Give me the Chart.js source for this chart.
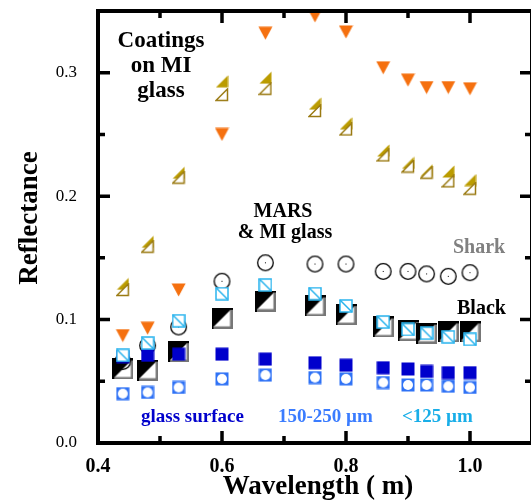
<!DOCTYPE html>
<html>
<head>
<meta charset="utf-8">
<script src="https://cdn.jsdelivr.net/npm/chart.js@4"></script>
<style>
  html, body { margin: 0; padding: 0; overflow: hidden; background: #fff; }
  #wrap { width: 531px; height: 502px; overflow: hidden; position: relative; }
  canvas { display: block; }
</style>
</head>
<body>
<div id="wrap"><canvas id="chart" width="540" height="502"></canvas></div>
<script>
// wavelength in microns
const wavelength = [0.44, 0.48, 0.53, 0.60, 0.67, 0.75, 0.80, 0.86, 0.90, 0.93, 0.965, 1.00];

// coatings on MI glass
const coatingOrange = [0.087, 0.093, 0.124, 0.250, 0.332, 0.346, 0.333, 0.304, 0.294, 0.288, 0.288, 0.287];
const coatingOliveFilled = [0.129, 0.163, 0.219, 0.293, 0.296, 0.275, 0.259, 0.237, 0.227, 0.221, 0.220, 0.213];
const coatingOliveOpen = [0.124, 0.159, 0.215, 0.282, 0.287, 0.269, 0.254, 0.233, 0.224, 0.219, 0.212, 0.206];

// MARS & MI glass
const shark = [0.066, 0.079, 0.094, 0.131, 0.146, 0.145, 0.145, 0.139, 0.139, 0.137, 0.135, 0.138];
const black = [0.060, 0.059, 0.074, 0.101, 0.115, 0.111, 0.104, 0.094, 0.091, 0.089, 0.090, 0.090];
const glassSurface = [0.070, 0.071, 0.072, 0.072, 0.068, 0.065, 0.063, 0.061, 0.060, 0.058, 0.057, 0.057];
const grain150to250 = [0.040, 0.041, 0.045, 0.052, 0.055, 0.053, 0.052, 0.049, 0.047, 0.047, 0.046, 0.045];
const grainUnder125 = [0.071, 0.081, 0.099, 0.121, 0.128, 0.121, 0.111, 0.098, 0.092, 0.089, 0.086, 0.084];

const xMajorTicks = [0.4, 0.6, 0.8, 1.0];
const xMinorTicks = [0.5, 0.7, 0.9];
const yMajorTicks = [0.0, 0.1, 0.2, 0.3];
const yMinorTicks = [0.05, 0.15, 0.25];

const serif = "'Liberation Serif', 'DejaVu Serif', serif";

// little canvases used as point styles
function marker(w, h, draw) {
    const c = document.createElement('canvas');
    c.width = w;
    c.height = h;
    draw(c.getContext('2d'), w, h);
    return c;
}

const orangeTri = marker(15, 14, (g) => {
    g.fillStyle = '#f5700f';
    g.beginPath();
    g.moveTo(0.5, 0.5); g.lineTo(14.5, 0.5); g.lineTo(7.5, 13.5);
    g.closePath();
    g.fill();
});

const oliveFilled = marker(13, 13, (g) => {
    g.fillStyle = '#bb9c00';
    g.beginPath();
    g.moveTo(12.5, 0.5); g.lineTo(12.5, 12.5); g.lineTo(0.5, 12.5);
    g.closePath();
    g.fill();
});

const oliveOpen = marker(14, 14, (g) => {
    g.fillStyle = '#fff';
    g.strokeStyle = '#9a7a12';
    g.lineWidth = 1.5;
    g.beginPath();
    g.moveTo(12.5, 1); g.lineTo(12.5, 12.5); g.lineTo(1, 12.5);
    g.closePath();
    g.fill();
    g.stroke();
});

const sharkCircle = marker(19, 19, (g) => {
    g.strokeStyle = '#000';
    g.lineWidth = 1.3;
    g.beginPath();
    g.arc(9.5, 9.5, 7.8, 0, Math.PI * 2);
    g.stroke();
    g.fillStyle = '#000';
    g.fillRect(9, 9, 1, 1);
});

const blackSquare = marker(21, 21, (g) => {
    g.fillStyle = '#fff';
    g.fillRect(1, 1, 19, 19);
    g.fillStyle = '#000';
    g.beginPath();
    g.moveTo(1, 1); g.lineTo(20, 1); g.lineTo(1, 20);
    g.closePath();
    g.fill();
    g.fillStyle = '#777';
    g.fillRect(18.5, 1, 2.5, 20);
    g.fillRect(1, 18.5, 20, 2.5);
    g.fillStyle = '#000';
    g.fillRect(0, 0, 21, 2);
    g.fillRect(0, 0, 2, 21);
});

const cyanSquare = marker(14, 14, (g) => {
    g.fillStyle = '#fff';
    g.fillRect(1, 1, 12, 12);
    g.strokeStyle = '#2ab4ee';
    g.lineWidth = 1.5;
    g.strokeRect(1, 1, 12, 12);
    g.beginPath();
    g.moveTo(1, 1); g.lineTo(13, 13);
    g.stroke();
});

const blueSquare = marker(14, 14, (g) => {
    g.fillStyle = '#0000cc';
    g.fillRect(0.5, 0.5, 13, 13);
});

const blueCircleSquare = marker(14, 14, (g) => {
    g.fillStyle = '#2f72f6';
    g.fillRect(0.5, 0.5, 13, 13);
    g.fillStyle = '#fff';
    g.beginPath();
    g.arc(7, 7, 5, 0, Math.PI * 2);
    g.fill();
});

const points = (ys) => ys.map((y, i) => ({ x: wavelength[i], y: y }));

const series = [
    { label: '<125 um', data: grainUnder125, style: cyanSquare },
    { label: 'glass surface', data: glassSurface, style: blueSquare },
    { label: '150-250 um', data: grain150to250, style: blueCircleSquare },
    { label: 'Shark', data: shark, style: sharkCircle },
    { label: 'Black', data: black, style: blackSquare },
    { label: 'coating open', data: coatingOliveOpen, style: oliveOpen },
    { label: 'coating filled', data: coatingOliveFilled, style: oliveFilled },
    { label: 'coating orange', data: coatingOrange, style: orangeTri },
];

const datasets = series.map((s, i) => ({
    label: s.label,
    data: points(s.data),
    pointStyle: s.style,
    pointRadius: 7,
    order: i
}));

function tickMarks(ctx, area, xs, ys) {
    const len = { major: 12, minor: 7 };
    ctx.save();
    ctx.strokeStyle = '#000';
    ctx.lineWidth = 3.5;
    ctx.beginPath();
    const xTicks = [[xMajorTicks, len.major], [xMinorTicks, len.minor]];
    xTicks.forEach(([vals, l]) => vals.forEach(v => {
        const px = xs.getPixelForValue(v);
        ctx.moveTo(px, area.bottom); ctx.lineTo(px, area.bottom - l);
        ctx.moveTo(px, area.top); ctx.lineTo(px, area.top + l);
    }));
    const yTicks = [[yMajorTicks, len.major], [yMinorTicks, len.minor]];
    yTicks.forEach(([vals, l]) => vals.forEach(v => {
        const py = ys.getPixelForValue(v);
        ctx.moveTo(area.left, py); ctx.lineTo(area.left + l, py);
        ctx.moveTo(area.right, py); ctx.lineTo(area.right - l, py);
    }));
    ctx.stroke();
    ctx.lineWidth = 4;
    ctx.strokeRect(area.left, area.top, area.right - area.left, area.bottom - area.top);
    ctx.restore();
}

function label(ctx, text, x, y, size, color, align) {
    ctx.font = 'bold ' + size + 'px ' + serif;
    ctx.fillStyle = color;
    ctx.textAlign = align;
    ctx.textBaseline = 'alphabetic';
    ctx.fillText(text, x, y);
}

const framePlugin = {
    id: 'frame',
    afterDraw(chart) {
        const ctx = chart.ctx;
        tickMarks(ctx, chart.chartArea, chart.scales.x, chart.scales.y);

        ctx.save();
        label(ctx, 'Coatings', 161, 47, 23, '#000', 'center');
        label(ctx, 'on MI', 161, 72, 23, '#000', 'center');
        label(ctx, 'glass', 161, 97, 23, '#000', 'center');

        label(ctx, 'MARS', 283, 217, 20, '#000', 'center');
        label(ctx, '& MI glass', 285, 238, 20, '#000', 'center');
        label(ctx, 'Shark', 453, 253, 20, '#808080', 'left');
        label(ctx, 'Black', 457, 314, 20, '#000', 'left');

        label(ctx, 'glass surface', 141, 422, 19, '#0000cc', 'left');
        label(ctx, '150-250 µm', 278, 422, 19, '#3a7cff', 'left');
        label(ctx, '<125 µm', 402, 422, 19, '#19aee8', 'left');

        label(ctx, 'Wavelength ( m)', 318, 494, 27, '#000', 'center');
        ctx.translate(37, 218);
        ctx.rotate(-Math.PI / 2);
        label(ctx, 'Reflectance', 0, 0, 27, '#000', 'center');
        ctx.restore();
    }
};

// keep the plot box where the reference has it
const noScalePadding = (s) => {
    s.paddingTop = 0;
    s.paddingBottom = 0;
    s.paddingLeft = 0;
    s.paddingRight = 0;
};

new Chart(document.getElementById('chart'), {
    type: 'scatter',
    data: { datasets: datasets },
    options: {
        responsive: false,
        animation: false,
        layout: { padding: { top: 11, right: 5, left: 0, bottom: 0 } },
        plugins: {
            legend: { display: false },
            tooltip: { enabled: false }
        },
        scales: {
            x: {
                type: 'linear',
                min: 0.4,
                max: 1.1,
                afterBuildTicks: (s) => { s.ticks = xMajorTicks.map(v => ({ value: v })); },
                afterFit: (s) => { s.height = 59; noScalePadding(s); },
                grid: { display: false },
                border: { display: false },
                ticks: {
                    color: '#000',
                    padding: 4,
                    maxRotation: 0,
                    font: { family: serif, size: 20, weight: 'bold' },
                    callback: (v) => Number(v).toFixed(1)
                }
            },
            y: {
                type: 'linear',
                min: 0,
                max: 0.35,
                afterBuildTicks: (s) => { s.ticks = yMajorTicks.map(v => ({ value: v })); },
                afterFit: (s) => { s.width = 98; noScalePadding(s); },
                grid: { display: false },
                border: { display: false },
                ticks: {
                    color: '#000',
                    padding: 13,
                    font: { family: serif, size: 17 },
                    callback: (v) => Number(v).toFixed(1)
                }
            }
        }
    },
    plugins: [framePlugin]
});
</script>
</body>
</html>
